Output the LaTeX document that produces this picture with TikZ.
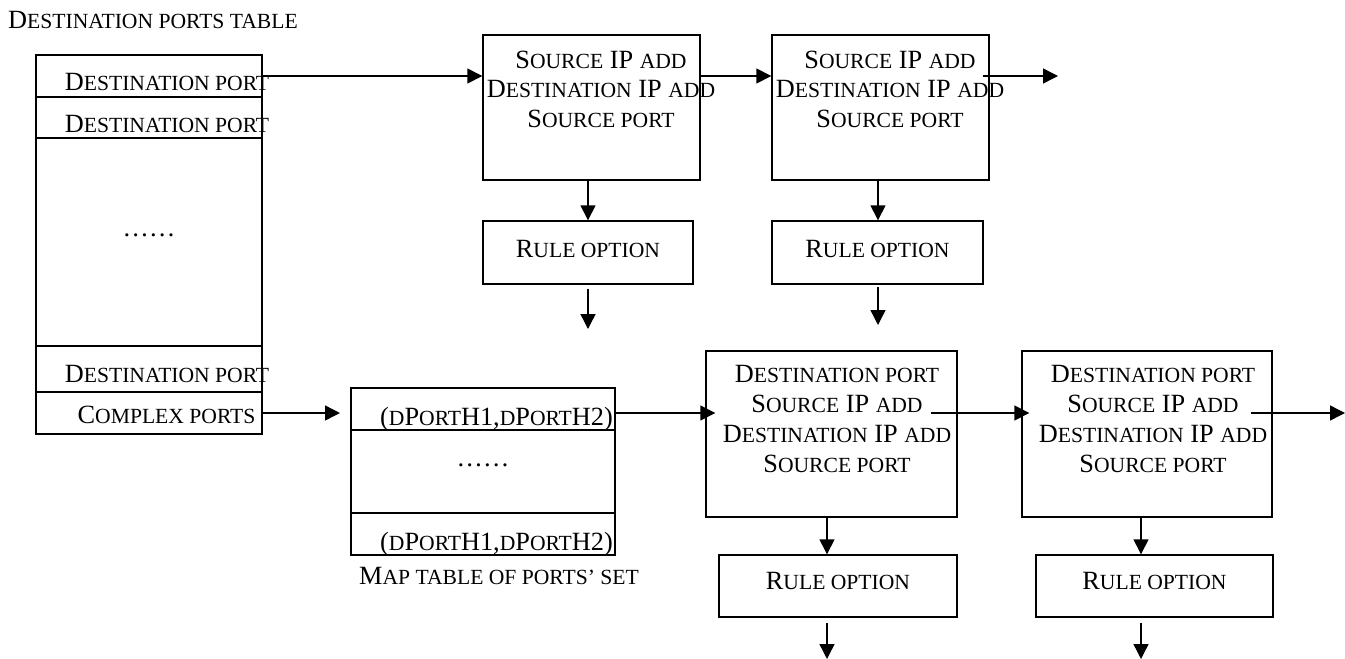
\documentclass[tikz,border=0pt]{standalone}
\usepackage{fontspec}
\setmainfont{Liberation Serif}
\usetikzlibrary{arrows.meta}
\newcommand\sm[1]{{\fontsize{21.6pt}{30pt}\selectfont #1}}
\begin{document}
\begin{tikzpicture}[x=1pt,y=-1pt,
  box/.style={draw, line width=1.4pt, inner sep=0pt},
  txt/.style={anchor=base, inner sep=0pt, font=\fontsize{26.3pt}{30pt}\selectfont},
  arr/.style={line width=1.4pt, -{Triangle[length=15pt,width=15pt]}}]
\useasboundingbox (0,0) rectangle (1345,659);

% ---------- title ----------
\node[txt, anchor=base west] (title) at (8,28) {D\sm{ESTINATION PORTS TABLE}};

% ---------- destination ports table ----------
\node[box, minimum width=226pt, minimum height=42pt]  (r1) at (149,76) {};
\node[box, minimum width=226pt, minimum height=41pt]  (r2) at (149,117.5) {};
\node[box, minimum width=226pt, minimum height=208pt] (r3) at (149,242) {};
\node[box, minimum width=226pt, minimum height=46pt]  (r4) at (149,369) {};
\node[box, minimum width=226pt, minimum height=42pt]  (r5) at (149,413) {};
\node[txt] (r1t) at (167,90)  {D\sm{ESTINATION PORT}};
\node[txt] (r2t) at (167,132) {D\sm{ESTINATION PORT}};
\node[txt] (r3t) at (149,236) {……};
\node[txt] (r4t) at (167,382) {D\sm{ESTINATION PORT}};
\node[txt] (r5t) at (166.5,423) {C\sm{OMPLEX PORTS}};

% ---------- map table ----------
\node[box, minimum width=264pt, minimum height=42pt] (m1) at (483,409) {};
\node[box, minimum width=264pt, minimum height=83pt] (m2) at (483,471.5) {};
\node[box, minimum width=264pt, minimum height=42pt] (m3) at (483,534) {};
\node[txt] (m1t) at (496.5,425) {(\sm{D}P\sm{ORT}H1,\sm{D}P\sm{ORT}H2)};
\node[txt] (m2t) at (483,466) {……};
\node[txt] (m3t) at (496.5,550) {(\sm{D}P\sm{ORT}H1,\sm{D}P\sm{ORT}H2)};
\node[txt] (cap) at (499,584) {M\sm{AP TABLE OF PORTS’ SET}};

% ---------- top row ----------
\node[box, minimum width=217pt, minimum height=145pt] (tb1) at (591.5,107.5) {};
\node[box, minimum width=217pt, minimum height=145pt] (tb2) at (880.5,107.5) {};
\node[box, minimum width=210pt, minimum height=63pt]  (tr1) at (588,252.5) {};
\node[box, minimum width=211pt, minimum height=63pt]  (tr2) at (877.5,252.5) {};
\node[txt] (tb1a) at (601,68)  {S\sm{OURCE} IP \sm{ADD}};
\node[txt] (tb1b) at (601,97.5) {D\sm{ESTINATION} IP \sm{ADD}};
\node[txt] (tb1c) at (601,127) {S\sm{OURCE PORT}};
\node[txt] (tb2a) at (890,68)  {S\sm{OURCE} IP \sm{ADD}};
\node[txt] (tb2b) at (890,97.5) {D\sm{ESTINATION} IP \sm{ADD}};
\node[txt] (tb2c) at (890,127) {S\sm{OURCE PORT}};
\node[txt] (tr1t) at (588,257)   {R\sm{ULE OPTION}};
\node[txt] (tr2t) at (877.5,257) {R\sm{ULE OPTION}};

% ---------- bottom row ----------
\node[box, minimum width=251pt, minimum height=166pt] (lb1) at (831.5,434) {};
\node[box, minimum width=250pt, minimum height=166pt] (lb2) at (1147,434) {};
\node[box, minimum width=238pt, minimum height=62pt]  (lr1) at (838,586) {};
\node[box, minimum width=237pt, minimum height=62pt]  (lr2) at (1154.5,586) {};
\node[txt] (lb1a) at (837,382) {D\sm{ESTINATION PORT}};
\node[txt] (lb1b) at (837,412) {S\sm{OURCE} IP \sm{ADD}};
\node[txt] (lb1c) at (837,442) {D\sm{ESTINATION} IP \sm{ADD}};
\node[txt] (lb1d) at (837,472) {S\sm{OURCE PORT}};
\node[txt] (lb2a) at (1153,382) {D\sm{ESTINATION PORT}};
\node[txt] (lb2b) at (1153,412) {S\sm{OURCE} IP \sm{ADD}};
\node[txt] (lb2c) at (1153,442) {D\sm{ESTINATION} IP \sm{ADD}};
\node[txt] (lb2d) at (1153,472) {S\sm{OURCE PORT}};
\node[txt] (lr1t) at (838,589)    {R\sm{ULE OPTION}};
\node[txt] (lr2t) at (1154.5,589) {R\sm{ULE OPTION}};

% ---------- free ends ----------
\coordinate (e3) at (1058,76);
\coordinate (e4) at (340,413);
\coordinate (e7) at (1345,413);
\coordinate (v2) at (588,329);
\coordinate (v4) at (878,325);
\coordinate (v6) at (827,659);
\coordinate (v8) at (1141,659);

% ---------- horizontal connectors ----------
\draw[arr] (r1.east) -- (r1.east -| tb1.west);
\draw[arr] (tb1.east |- r1.east) -- (tb2.west |- r1.east);
\draw[arr] ([xshift=-7pt]tb2.east |- r1.east) -- (e3);
\draw[arr] (r5.east) -- (e4);
\draw[arr] (m1.east |- e7) -- ([xshift=10pt]lb1.west |- e7);
\draw[arr] ([xshift=-27pt]lb1.east |- e7) -- ([xshift=8pt]lb2.west |- e7);
\draw[arr] ([xshift=-22pt]lb2.east |- e7) -- (e7);

% ---------- vertical connectors ----------
\draw[arr] (tr1.north |- tb1.south) -- (tr1.north);
\draw[arr] ([yshift=-4pt]tr1.south) -- (v2);
\draw[arr] (v4 |- tb2.south) -- (v4 |- tr2.north);
\draw[arr] ([yshift=-2pt]v4 |- tr2.south) -- (v4);
\draw[arr] (v6 |- lb1.south) -- (v6 |- lr1.north);
\draw[arr] ([yshift=-5pt]v6 |- lr1.south) -- (v6);
\draw[arr] (v8 |- lb2.south) -- (v8 |- lr2.north);
\draw[arr] ([yshift=-5pt]v8 |- lr2.south) -- (v8);
\end{tikzpicture}
\end{document}
